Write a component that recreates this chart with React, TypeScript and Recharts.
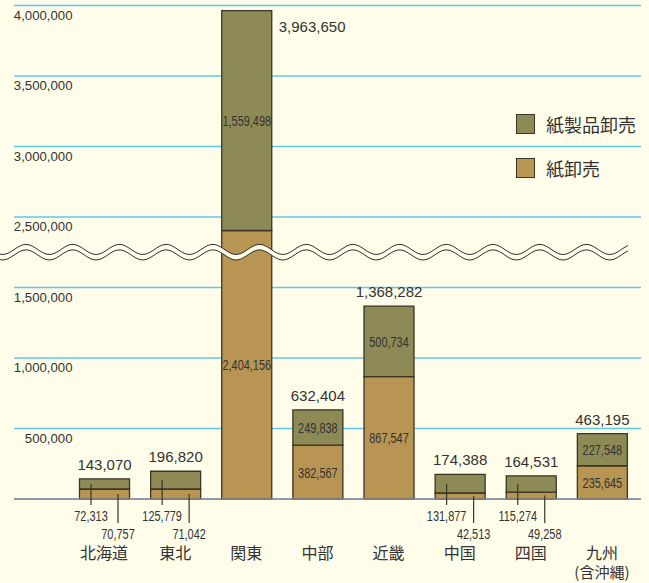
import React from 'react'
import { BarChart, Bar, XAxis, YAxis, CartesianGrid, LabelList, ReferenceLine, Legend } from 'recharts'

// 地域別 紙・紙製品卸売 販売額
const regions = ['北海道', '東北', '関東', '中部', '近畿', '中国', '四国', '九州']
const regionNotes = ['', '', '', '', '', '', '', '(含沖縄)']
const paperSales = [70757, 71042, 2404156, 382567, 867547, 42513, 49258, 235645] // 紙卸売
const productSales = [72313, 125779, 1559498, 249838, 500734, 131877, 115274, 227548] // 紙製品卸売
const totals = [143070, 196820, 3963650, 632404, 1368282, 174388, 164531, 463195]
const tickValues = [0, 500000, 1000000, 1500000, 2500000, 3000000, 3500000, 4000000]
const seriesNames = { products: '紙製品卸売', paper: '紙卸売' }

// axis break: 2,000,000 - 2,500,000 is cut out
const BREAK_FROM = 2000000
const BREAK_GAP = 500000
const toDisplay = (v: number) => (v > BREAK_FROM ? v - BREAK_GAP : v)
const fromDisplay = (v: number) => (v >= BREAK_FROM ? v + BREAK_GAP : v)
const fmt = (v: number) => v.toLocaleString('en-US')

const W = 649
const H = 583
const XAXIS_H = 84
const PLOT_BOTTOM = H - XAXIS_H

const BG = '#fffdea'
const GREEN = '#8e8a56'
const BROWN = '#b89552'
const EDGE = '#3a3524'
const GRID = '#62c6ec'
const TEXT = '#333'
const NUM_FONT = '"Liberation Sans", Arial, sans-serif'
const JP_FONT = '"Noto Sans CJK JP", "Noto Sans", sans-serif'

const data = regions.map((region, i) => ({
  region,
  paper: toDisplay(paperSales[i]),
  products: toDisplay(paperSales[i] + productSales[i]) - toDisplay(paperSales[i]),
}))

const isSmall = (i: number) => totals[i] < 200000

function NarrowText({ x, y, children }: { x: number; y: number; children: React.ReactNode }) {
  return (
    <text
      transform={`translate(${x} ${y}) scale(0.73 1)`}
      textAnchor="middle"
      fontSize={15}
      fontFamily={NUM_FONT}
      fill={TEXT}
    >
      {children}
    </text>
  )
}

const segmentLabel = (series: 'paper' | 'products') => (props: any) => {
  const { x, y, width, height, index } = props
  const value = series === 'paper' ? paperSales[index] : productSales[index]
  const cy = y + height / 2
  if (isSmall(index)) {
    const lx = x + (series === 'products' ? 11.5 : 38.5)
    const lineEnd = PLOT_BOTTOM + (series === 'products' ? 6 : 24)
    const base = PLOT_BOTTOM + (series === 'products' ? 21.5 : 40)
    return (
      <g>
        <line x1={lx} y1={cy} x2={lx} y2={lineEnd} stroke={EDGE} strokeWidth={1.2} />
        <NarrowText x={lx} y={base}>{fmt(value)}</NarrowText>
      </g>
    )
  }
  return <NarrowText x={x + width / 2} y={cy + 5.5}>{fmt(value)}</NarrowText>
}

const totalLabel = (props: any) => {
  const { x, y, width, index } = props
  const nearTop = toDisplay(totals[index]) > 3300000
  return (
    <text
      x={nearTop ? x + width + 7 : x + width / 2}
      y={nearTop ? y + 21.5 : y - 9}
      textAnchor={nearTop ? 'start' : 'middle'}
      fontSize={15}
      fontFamily={NUM_FONT}
      fill={TEXT}
    >
      {fmt(totals[index])}
    </text>
  )
}

const YTick = (props: any) => {
  const { y, payload } = props
  if (payload.value === 0) return <g />
  return (
    <text x={72.5} y={y + 14} textAnchor="end" fontSize={13.2} fontFamily={NUM_FONT} fill={TEXT}>
      {fmt(fromDisplay(payload.value))}
    </text>
  )
}

const XTick = (props: any) => {
  const { x, payload, index } = props
  const base = PLOT_BOTTOM + 60
  return (
    <g fontFamily={JP_FONT} fontSize={16} fill={TEXT} textAnchor="middle">
      <text x={x} y={base}>{payload.value}</text>
      {regionNotes[index] && <text x={x} y={base + 19} fontSize={15}>{regionNotes[index]}</text>}
    </g>
  )
}

function Wave(props: any) {
  const yc = props.y1
  const pts = (off: number) => {
    const arr: string[] = []
    for (let px = 0; px <= 628; px += 1) {
      arr.push(`${px},${(yc + off - 5 * Math.cos((2 * Math.PI * (px - 26)) / 46.7)).toFixed(2)}`)
    }
    return arr
  }
  const upper = pts(0)
  const lower = pts(5.5)
  return (
    <g>
      <path d={`M${upper.join(' L')} L${lower.slice().reverse().join(' L')} Z`} fill={BG} stroke="none" />
      <path d={`M${upper.join(' L')}`} fill="none" stroke="#333" strokeWidth={1} />
      <path d={`M${lower.join(' L')}`} fill="none" stroke="#333" strokeWidth={1} />
    </g>
  )
}

function LegendBox() {
  const rows = [
    { name: seriesNames.products, color: GREEN },
    { name: seriesNames.paper, color: BROWN },
  ]
  return (
    <div style={{ fontFamily: JP_FONT, fontSize: 18, color: TEXT }}>
      {rows.map((r) => (
        <div key={r.name} style={{ display: 'flex', alignItems: 'center', height: 44 }}>
          <span
            style={{
              width: 17,
              height: 18,
              background: r.color,
              border: `1.5px solid ${EDGE}`,
              marginRight: 11,
              display: 'inline-block',
            }}
          />
          <span>{r.name}</span>
        </div>
      ))}
    </div>
  )
}

export default function App() {
  return (
    <div style={{ position: 'absolute', left: 0, top: 0, width: W, height: H, background: BG }}>
      <BarChart width={W} height={H} data={data} margin={{ top: 5.5, right: 8, bottom: 0, left: 13 }}>
        <CartesianGrid vertical={false} stroke={GRID} strokeWidth={1.3} />
        <XAxis
          dataKey="region"
          height={XAXIS_H}
          padding={{ left: 54.5, right: 3.5 }}
          interval={0}
          axisLine={{ stroke: '#8a8a8a', strokeWidth: 1.5 }}
          tickLine={false}
          tick={<XTick />}
        />
        <YAxis
          width={1}
          domain={[0, toDisplay(4000000)]}
          ticks={tickValues.map(toDisplay)}
          interval={0}
          axisLine={false}
          tickLine={false}
          tick={YTick}
        />
        <Bar dataKey="paper" name={seriesNames.paper} stackId="a" fill={BROWN} stroke={EDGE} strokeWidth={1.3} barSize={50} isAnimationActive={false}>
          <LabelList dataKey="paper" content={segmentLabel('paper')} />
        </Bar>
        <Bar dataKey="products" name={seriesNames.products} stackId="a" fill={GREEN} stroke={EDGE} strokeWidth={1.3} barSize={50} isAnimationActive={false}>
          <LabelList dataKey="products" content={segmentLabel('products')} />
          <LabelList dataKey="products" content={totalLabel} />
        </Bar>
        <ReferenceLine y={1770000} ifOverflow="visible" shape={(p: any) => <Wave {...p} />} />
        <Legend
          layout="vertical"
          align="center"
          verticalAlign="middle"
          wrapperStyle={{ top: 102, left: 516, width: 130 }}
          content={() => <LegendBox />}
        />
      </BarChart>
    </div>
  )
}
